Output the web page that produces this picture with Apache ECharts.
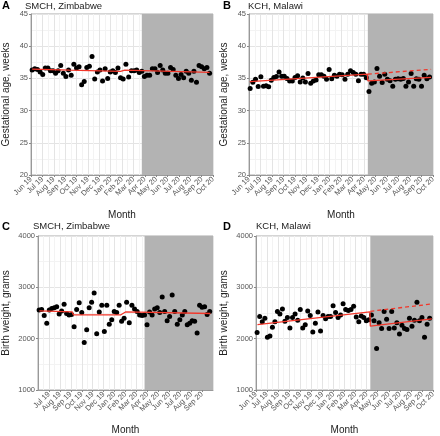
<!DOCTYPE html>
<html><head><meta charset="utf-8">
<script src="https://cdn.jsdelivr.net/npm/echarts@6/dist/echarts.min.js"></script>
<style>html,body{margin:0;padding:0;background:#fff}#c{width:440px;height:436px}</style>
</head><body><div id="c"></div>
<script>
const monthLabels = ['Jun 19','Jul 19','Aug 19','Sep 19','Oct 19','Nov 19','Dec 19','Jan 20','Feb 20','Mar 20','Apr 20','May 20','Jun 20','Jul 20','Aug 20','Sep 20','Oct 20'];
const panelTitles = ['SMCH, Zimbabwe','KCH, Malawi','SMCH, Zimbabwe','KCH, Malawi'];
const panelLetters = ['A','B','C','D'];
const firstWeek = '2019-06-04';
const breakZim = '2020-03-24';
const breakMal = '2020-04-11';
const endDate = '2020-10-01';

const gaZim = [36.3,36.5,36.4,36.0,35.6,36.6,36.6,36.2,36.2,35.8,36.2,37.0,35.8,35.3,36.3,35.5,37.2,36.6,36.8,34.0,34.5,36.7,36.9,38.4,34.9,36.0,36.3,34.6,36.5,35.0,36.0,36.2,35.9,36.6,35.1,34.9,37.2,35.2,36.2,36.2,36.3,35.9,36.1,
  35.3,35.5,35.5,36.5,36.5,35.9,37.0,36.3,35.8,35.8,36.7,36.4,35.5,35.0,35.6,35.1,36.1,35.8,34.7,36.1,34.4,37.0,36.8,36.5,36.7,35.8];
const gaMal = [33.45,34.4,34.85,33.75,35.25,33.8,33.85,33.7,34.7,35.15,35.3,36.0,35.35,35.35,35.0,34.6,34.6,35.15,35.4,34.45,35.05,34.45,35.75,34.25,34.6,34.75,35.55,35.55,35.35,34.85,36.4,34.95,35.5,35.35,35.65,35.55,34.85,35.65,36.2,35.9,35.65,34.65,35.65,35.65,
  35.1,32.95,34.25,34.45,36.55,35.35,34.35,35.65,34.85,34.65,33.8,34.85,34.95,34.85,35.0,33.8,34.45,35.75,33.8,34.95,34.85,33.8,35.5,34.95,35.2];
const bwZim = [2560,2570,2450,2300,2560,2590,2600,2620,2480,2540,2670,2490,2460,2470,2230,2570,2700,2510,1925,2175,2600,2710,2890,2095,2520,2650,2140,2650,2280,2370,2530,2510,2650,2340,2400,2710,2310,2650,2580,2530,2460,2450,2460,
  2270,2520,2460,2580,2600,2510,2810,2530,2350,2430,2850,2530,2280,2370,2460,2530,2270,2300,2350,2340,2110,2650,2610,2620,2470,2530];
const bwMal = [2120,2430,2330,2400,2030,2050,2220,2330,2530,2480,2580,2340,2410,2210,2410,2480,2360,2570,2210,2270,2540,2450,2130,2300,2520,2150,2450,2390,2430,2430,2640,2510,2410,2460,2680,2570,2550,2570,2630,2420,2330,2440,2410,2350,2370,
  2460,2350,1810,2310,2200,2530,2380,2200,2530,2210,2310,2090,2260,2200,2180,2400,2240,2360,2710,2350,2410,2030,2280,2400];

const fitGaZimDates = ['2019-06-04','2019-09-12','2019-09-16','2020-01-28','2020-02-08','2020-09-22'];
const fitGaZimVals  = [36.45,36.3,36.1,36.1,36.3,35.95];
const fitGaMalDates = ['2019-06-03','2020-04-10','2020-04-11','2020-09-26'];
const fitGaMalVals  = [34.5,35.67,34.63,35.15];
const cfGaMalDates  = ['2020-04-11','2020-09-26'];
const cfGaMalVals   = [35.67,36.4];
const fitBwZimDates = ['2019-06-05','2019-09-05','2019-09-08','2020-01-19','2020-02-01','2020-09-24'];
const fitBwZimVals  = [2540,2520,2465,2465,2520,2490];
const fitBwMalDates = ['2019-06-05','2020-04-10','2020-04-11','2020-09-28'];
const fitBwMalVals  = [2274,2521,2243,2385];
const cfBwMalDates  = ['2020-04-11','2020-09-28'];
const cfBwMalVals   = [2533,2676];

function monthPos(s){
  const [y,m,d] = s.split('-').map(Number);
  const dim = new Date(y, m, 0).getDate();
  return (y-2019)*12 + (m-6) + (d-1)/dim;
}
function weekDates(n){
  const out=[]; const t0 = new Date(firstWeek+'T00:00:00');
  for(let i=0;i<n;i++){const t=new Date(t0.getTime()+i*7*86400000);
    out.push(t.getFullYear()+'-'+String(t.getMonth()+1).padStart(2,'0')+'-'+String(t.getDate()).padStart(2,'0'));}
  return out;
}
function pts(vals){const ds=weekDates(vals.length);return vals.map((v,i)=>[monthPos(ds[i]),v]);}
function pairs(ds,vs){return ds.map((d,i)=>[monthPos(d),vs[i]]);}

const grids = [
  {left:28,top:14,width:185,height:161},
  {left:249,top:14,width:184,height:161},
  {left:35,top:236,width:178,height:161},
  {left:256,top:236,width:177,height:161}
];
const lblColor='#555';
const xAxes = grids.map((g,i)=>({
  type:'value',gridIndex:i,min:0,max:16,interval:1,
  name:'Month',nameLocation:'middle',nameGap:35,
  nameTextStyle:{fontFamily:'Liberation Sans',fontSize:10,color:'#222'},
  axisLine:{show:true,lineStyle:{color:'#999',width:1}},
  axisTick:{show:true,length:2,lineStyle:{color:'#888'}},
  axisLabel:{rotate:45,fontSize:7.5,color:lblColor,fontFamily:'Liberation Sans',margin:3,formatter:v=>monthLabels[Math.round(v)]||''},
  splitLine:{show:true,lineStyle:{color:'#e4e4e4',width:1}},
  minorTick:{show:false,splitNumber:2},
  minorSplitLine:{show:true,lineStyle:{color:'#f3f3f3',width:1}}
}));
const yAxes = grids.map((g,i)=>{
  const ga = i<2;
  return {type:'value',gridIndex:i,min:ga?20:1000,max:ga?45:4000,interval:ga?5:1000,
    name:ga?'Gestational age, weeks':'Birth weight, grams',nameLocation:'middle',nameGap:ga?20:27,
    nameTextStyle:{fontFamily:'Liberation Sans',fontSize:10,color:'#222'},
    axisLine:{show:true,lineStyle:{color:'#999',width:1}},
    axisTick:{show:true,length:2,lineStyle:{color:'#888'}},
    axisLabel:{fontSize:7.5,color:lblColor,fontFamily:'Liberation Sans',margin:3,formatter:v=>String(v)},
    splitLine:{show:true,lineStyle:{color:'#e4e4e4',width:1}},
    minorTick:{show:false,splitNumber:2},
    minorSplitLine:{show:true,lineStyle:{color:'#f3f3f3',width:1}}
  };
});
const breaks=[breakZim,breakMal,breakZim,breakMal];
const dataSets=[gaZim,gaMal,bwZim,bwMal];
const fits=[pairs(fitGaZimDates,fitGaZimVals),pairs(fitGaMalDates,fitGaMalVals),pairs(fitBwZimDates,fitBwZimVals),pairs(fitBwMalDates,fitBwMalVals)];
const cfs=[null,pairs(cfGaMalDates,cfGaMalVals),null,pairs(cfBwMalDates,cfBwMalVals)];
const red='#f2372a';
const series=[];
for(let i=0;i<4;i++){
  series.push({type:'line',xAxisIndex:i,yAxisIndex:i,data:[],z:1,silent:true,
    markArea:{silent:true,itemStyle:{color:'#b3b3b3',opacity:1},
      data:[[{xAxis:monthPos(breaks[i])},{xAxis:monthPos(endDate)}]]}});
  series.push({type:'scatter',xAxisIndex:i,yAxisIndex:i,data:pts(dataSets[i]),symbolSize:5,
    itemStyle:{color:'#000',opacity:1},z:3,silent:true});
  series.push({type:'line',xAxisIndex:i,yAxisIndex:i,data:fits[i],showSymbol:false,symbol:'none',
    lineStyle:{color:red,width:1.3},z:4,silent:true});
  if(cfs[i]) series.push({type:'line',xAxisIndex:i,yAxisIndex:i,data:cfs[i],showSymbol:false,symbol:'none',
    lineStyle:{color:red,width:1.3,type:[4,3]},z:4,silent:true});
}
const titles=[];
const pos=[[2,0,25,1],[223,0,248,1],[2,221,33,221],[223,221,256,221]];
for(let i=0;i<4;i++){
  titles.push({text:panelLetters[i],left:pos[i][0],top:pos[i][1],padding:0,textStyle:{fontFamily:'Liberation Sans',fontSize:11,fontWeight:'bold',color:'#000'}});
  titles.push({text:panelTitles[i],left:pos[i][2],top:pos[i][3],padding:0,textStyle:{fontFamily:'Liberation Sans',fontSize:9.5,fontWeight:'normal',color:'#222'}});
}
const chart=echarts.init(document.getElementById('c'),null,{renderer:'canvas'});
chart.setOption({animation:false,backgroundColor:'#fff',title:titles,
  grid:grids.map(g=>Object.assign({show:true,borderColor:'#aaa',borderWidth:1,backgroundColor:'#fff'},g)),
  xAxis:xAxes,yAxis:yAxes,series:series});
</script></body></html>
